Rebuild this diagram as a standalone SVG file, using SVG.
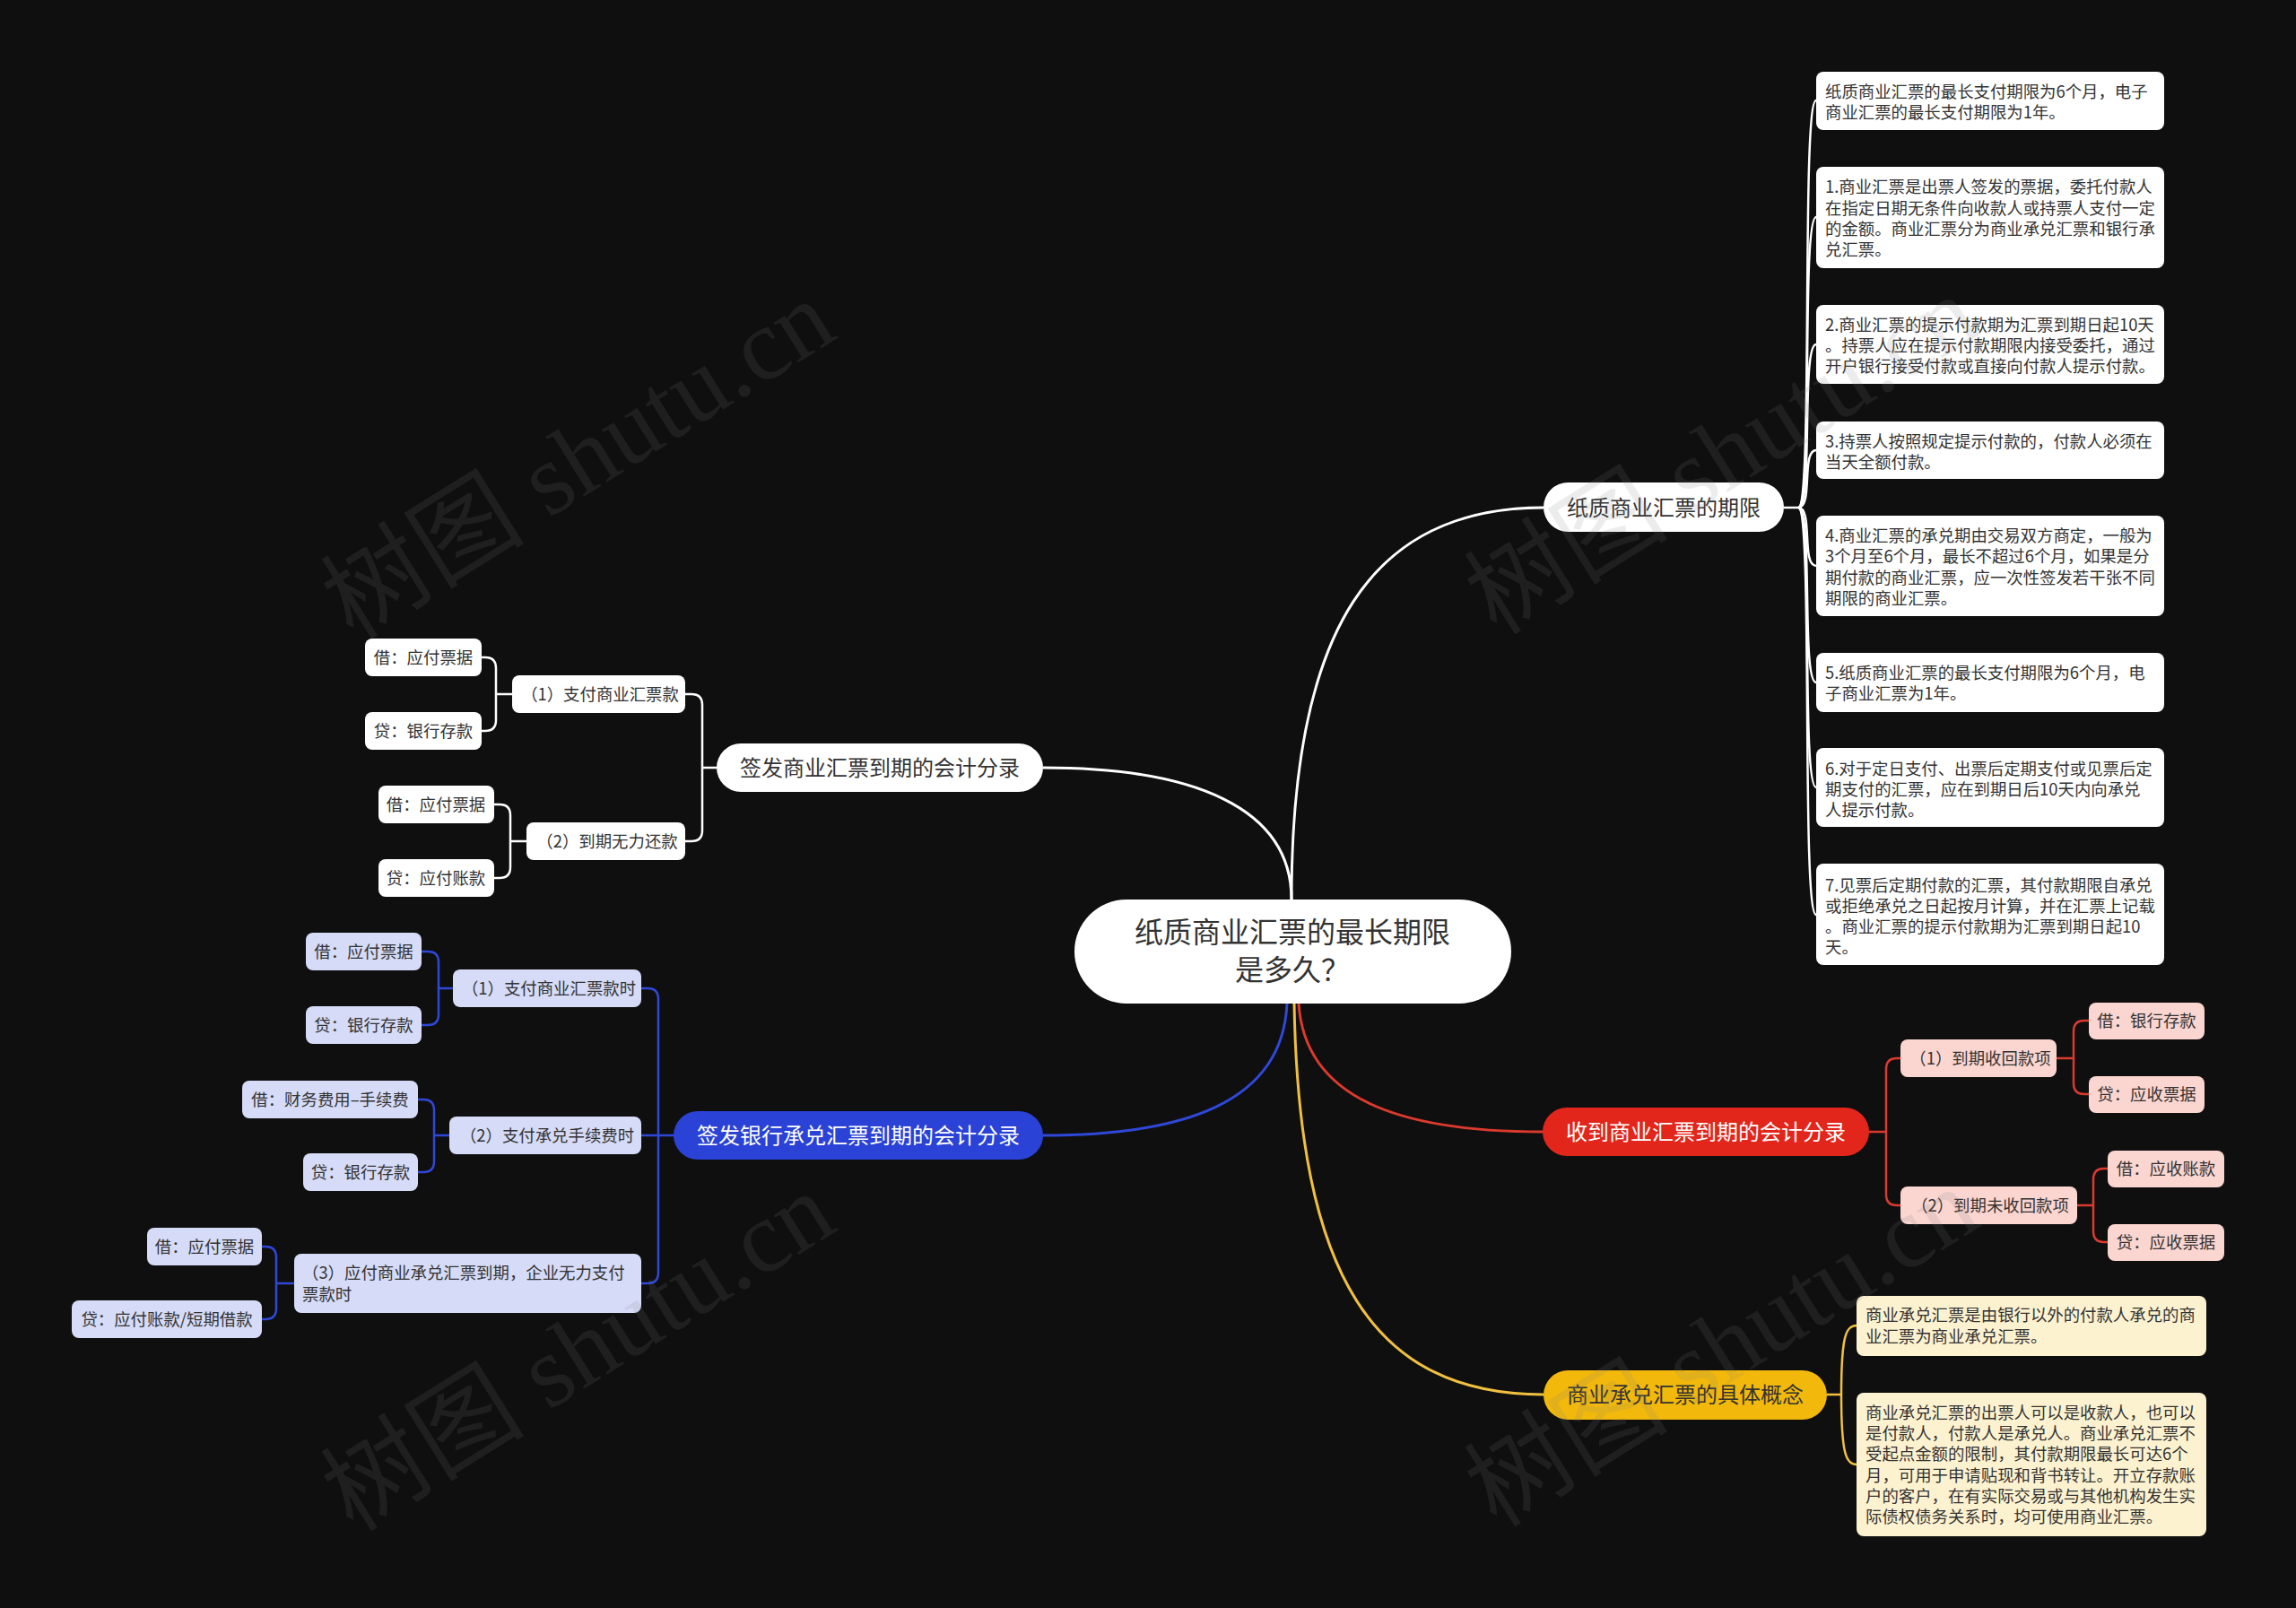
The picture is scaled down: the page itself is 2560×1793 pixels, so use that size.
<svg xmlns="http://www.w3.org/2000/svg" width="2560" height="1793" viewBox="0 0 2560 1793">
<style>
text{font-family:"Noto Sans CJK SC","Noto Sans",sans-serif}
.c{text-anchor:middle}
.lt{font-size:18.4px;fill:#333}
.mt{font-size:24px}
.dark{fill:#333}
.wh{fill:#fff}
.cw{fill:none;stroke:#fff;stroke-width:2.5}
.cb{fill:none;stroke:#2f48d8;stroke-width:2.5}
.cr{fill:none;stroke:#dc3a2e;stroke-width:2.5}
.cy{fill:none;stroke:#f0c040;stroke-width:2.5}
.main{stroke-width:3}
.lw{fill:#fff}
.lb{fill:#d6dbf7}
.lr{fill:#fbd5d0}
.ly{fill:#fdf2d0}
.wm{font-family:"Liberation Serif","Noto Sans CJK SC",serif;font-size:114px;fill:#808080;fill-opacity:0.15;text-anchor:middle}
</style>
<rect width="2560" height="1793" fill="#0f0f0f"/>
<g id="connectors">
<path class="cw main" d="M1440,1003 C1440,700 1530,566 1721,566"/>
<path class="cw main" d="M1440,1003 C1440,900 1330,856 1163,856"/>
<path class="cw" d="M1989,566 H2005"/>
<path class="cw" d="M2005,566 C2022,566 2008,112 2025,112"/>
<path class="cw" d="M2005,566 C2022,566 2008,242 2025,242"/>
<path class="cw" d="M2005,566 C2022,566 2008,384 2025,384"/>
<path class="cw" d="M2005,566 C2022,566 2008,502 2025,502"/>
<path class="cw" d="M2005,566 C2022,566 2008,631 2025,631"/>
<path class="cw" d="M2005,566 C2022,566 2008,761 2025,761"/>
<path class="cw" d="M2005,566 C2022,566 2008,878 2025,878"/>
<path class="cw" d="M2005,566 C2022,566 2008,1020 2025,1020"/>
<path class="cw" d="M799,856 H783"/>
<path class="cw" d="M783,856 V786 Q783,774 771,774 H764"/>
<path class="cw" d="M783,856 V926 Q783,938 771,938 H764"/>
<path class="cw" d="M571,774 H553"/>
<path class="cw" d="M553,774 V745 Q553,733 541,733 H537"/>
<path class="cw" d="M553,774 V803 Q553,815 541,815 H537"/>
<path class="cw" d="M587,938 H569"/>
<path class="cw" d="M569,938 V909 Q569,897 557,897 H551"/>
<path class="cw" d="M569,938 V967 Q569,979 557,979 H551"/>
<path class="cb main" d="M1435,1119 C1430,1230 1320,1266 1163,1266"/>
<path class="cb" d="M751,1266 H734"/>
<path class="cb" d="M734,1266 V1114 Q734,1102 722,1102 H715"/>
<path class="cb" d="M734,1266 H715"/>
<path class="cb" d="M734,1266 V1419 Q734,1431 722,1431 H715"/>
<path class="cb" d="M505,1102 H489"/>
<path class="cb" d="M489,1102 V1073 Q489,1061 477,1061 H470"/>
<path class="cb" d="M489,1102 V1131 Q489,1143 477,1143 H470"/>
<path class="cb" d="M501,1266 H484"/>
<path class="cb" d="M484,1266 V1238 Q484,1226 472,1226 H466"/>
<path class="cb" d="M484,1266 V1295 Q484,1307 472,1307 H466"/>
<path class="cb" d="M328,1431 H308"/>
<path class="cb" d="M308,1431 V1402 Q308,1390 296,1390 H292"/>
<path class="cb" d="M308,1431 V1459 Q308,1471 296,1471 H292"/>
<path class="cr main" d="M1448,1119 C1455,1225 1560,1262 1720,1262"/>
<path class="cr" d="M2084,1262 H2103"/>
<path class="cr" d="M2103,1262 V1192 Q2103,1180 2115,1180 H2119"/>
<path class="cr" d="M2103,1262 V1332 Q2103,1344 2115,1344 H2119"/>
<path class="cr" d="M2293,1180 H2312"/>
<path class="cr" d="M2312,1180 V1150 Q2312,1138 2324,1138 H2329"/>
<path class="cr" d="M2312,1180 V1208 Q2312,1220 2324,1220 H2329"/>
<path class="cr" d="M2316,1344 H2334"/>
<path class="cr" d="M2334,1344 V1315 Q2334,1303 2346,1303 H2350"/>
<path class="cr" d="M2334,1344 V1373 Q2334,1385 2346,1385 H2350"/>
<path class="cy main" d="M1443,1119 C1448,1420 1530,1555 1721,1555"/>
<path class="cy" d="M2037,1555 H2053"/>
<path class="cy" d="M2053,1555 C2053,1490 2058,1478 2070,1478"/>
<path class="cy" d="M2053,1555 C2053,1620 2058,1633 2070,1633"/>
</g>
<g id="root">
<rect x="1198" y="1003" width="487" height="116" rx="58" fill="#fff"/>
<text class="c dark" x="1441" y="1051" font-size="32">纸质商业汇票的最长期限</text>
<text class="c dark" x="1441" y="1093" font-size="32">是多久？</text>
</g>
<g id="b1">
<rect x="1721" y="538" width="268" height="55" rx="27.5" fill="#fff"/>
<text class="c mt dark" x="1855" y="575">纸质商业汇票的期限</text>
</g>
<g id="b1-l0"><rect class="lw" x="2025" y="80" width="388" height="65" rx="8"/>
<text class="lt" x="2035"><tspan x="2035" y="109">纸质商业汇票的最长支付期限为6个月，电子</tspan><tspan x="2035" y="132">商业汇票的最长支付期限为1年。</tspan></text></g>
<g id="b1-l1"><rect class="lw" x="2025" y="186" width="388" height="113" rx="8"/>
<text class="lt"><tspan x="2035" y="215">1.商业汇票是出票人签发的票据，委托付款人</tspan><tspan x="2035" y="239">在指定日期无条件向收款人或持票人支付一定</tspan><tspan x="2035" y="262">的金额。商业汇票分为商业承兑汇票和银行承</tspan><tspan x="2035" y="285">兑汇票。</tspan></text></g>
<g id="b1-l2"><rect class="lw" x="2025" y="340" width="388" height="88" rx="8"/>
<text class="lt"><tspan x="2035" y="369">2.商业汇票的提示付款期为汇票到期日起10天</tspan><tspan x="2035" y="392">。持票人应在提示付款期限内接受委托，通过</tspan><tspan x="2035" y="415">开户银行接受付款或直接向付款人提示付款。</tspan></text></g>
<g id="b1-l3"><rect class="lw" x="2025" y="470" width="388" height="64" rx="8"/>
<text class="lt"><tspan x="2035" y="499">3.持票人按照规定提示付款的，付款人必须在</tspan><tspan x="2035" y="522">当天全额付款。</tspan></text></g>
<g id="b1-l4"><rect class="lw" x="2025" y="575" width="388" height="112" rx="8"/>
<text class="lt"><tspan x="2035" y="604">4.商业汇票的承兑期由交易双方商定，一般为</tspan><tspan x="2035" y="627">3个月至6个月，最长不超过6个月，如果是分</tspan><tspan x="2035" y="651">期付款的商业汇票，应一次性签发若干张不同</tspan><tspan x="2035" y="674">期限的商业汇票。</tspan></text></g>
<g id="b1-l5"><rect class="lw" x="2025" y="728" width="388" height="66" rx="8"/>
<text class="lt"><tspan x="2035" y="757">5.纸质商业汇票的最长支付期限为6个月，电</tspan><tspan x="2035" y="780">子商业汇票为1年。</tspan></text></g>
<g id="b1-l6"><rect class="lw" x="2025" y="834" width="388" height="88" rx="8"/>
<text class="lt"><tspan x="2035" y="864">6.对于定日支付、出票后定期支付或见票后定</tspan><tspan x="2035" y="887">期支付的汇票，应在到期日后10天内向承兑</tspan><tspan x="2035" y="910">人提示付款。</tspan></text></g>
<g id="b1-l7"><rect class="lw" x="2025" y="963" width="388" height="113" rx="8"/>
<text class="lt"><tspan x="2035" y="994">7.见票后定期付款的汇票，其付款期限自承兑</tspan><tspan x="2035" y="1017">或拒绝承兑之日起按月计算，并在汇票上记载</tspan><tspan x="2035" y="1040">。商业汇票的提示付款期为汇票到期日起10</tspan><tspan x="2035" y="1063">天。</tspan></text></g>
<g id="b2">
<rect x="799" y="829" width="364" height="54" rx="27" fill="#fff"/>
<text class="c mt dark" x="981" y="865">签发商业汇票到期的会计分录</text>
</g>
<g id="b2-s1"><rect class="lw" x="571" y="753" width="193" height="42" rx="8"/><text class="c lt" x="669" y="781">（1）支付商业汇票款</text></g>
<g id="b2-s2"><rect class="lw" x="587" y="917" width="177" height="42" rx="8"/><text class="c lt" x="677" y="945">（2）到期无力还款</text></g>
<g id="b2-l1"><rect class="lw" x="407" y="712" width="130" height="42" rx="8"/><text class="c lt" x="472" y="740">借：应付票据</text></g>
<g id="b2-l2"><rect class="lw" x="407" y="794" width="130" height="42" rx="8"/><text class="c lt" x="472" y="822">贷：银行存款</text></g>
<g id="b2-l3"><rect class="lw" x="422" y="876" width="129" height="42" rx="8"/><text class="c lt" x="486" y="904">借：应付票据</text></g>
<g id="b2-l4"><rect class="lw" x="422" y="958" width="129" height="42" rx="8"/><text class="c lt" x="486" y="986">贷：应付账款</text></g>
<g id="b3">
<rect x="751" y="1239" width="412" height="54" rx="27" fill="#2a42d6"/>
<text class="c mt wh" x="957" y="1275">签发银行承兑汇票到期的会计分录</text>
</g>
<g id="b3-s1"><rect class="lb" x="505" y="1081" width="210" height="42" rx="8"/><text class="c lt" x="612" y="1109">（1）支付商业汇票款时</text></g>
<g id="b3-s2"><rect class="lb" x="501" y="1245" width="214" height="42" rx="8"/><text class="c lt" x="610" y="1273">（2）支付承兑手续费时</text></g>
<g id="b3-s3"><rect class="lb" x="328" y="1398" width="387" height="66" rx="8"/><text class="lt"><tspan x="337" y="1426">（3）应付商业承兑汇票到期，企业无力支付</tspan><tspan x="337" y="1450">票款时</tspan></text></g>
<g id="b3-l1"><rect class="lb" x="341" y="1040" width="129" height="42" rx="8"/><text class="c lt" x="405.5" y="1068">借：应付票据</text></g>
<g id="b3-l2"><rect class="lb" x="341" y="1122" width="129" height="42" rx="8"/><text class="c lt" x="405.5" y="1150">贷：银行存款</text></g>
<g id="b3-l3"><rect class="lb" x="270" y="1205" width="196" height="42" rx="8"/><text class="c lt" x="368" y="1233">借：财务费用–手续费</text></g>
<g id="b3-l4"><rect class="lb" x="338" y="1286" width="128" height="42" rx="8"/><text class="c lt" x="402" y="1314">贷：银行存款</text></g>
<g id="b3-l5"><rect class="lb" x="164" y="1369" width="128" height="42" rx="8"/><text class="c lt" x="228" y="1397">借：应付票据</text></g>
<g id="b3-l6"><rect class="lb" x="80" y="1450" width="212" height="42" rx="8"/><text class="c lt" x="186" y="1478">贷：应付账款/短期借款</text></g>
<g id="b4">
<rect x="1720" y="1235" width="364" height="54" rx="27" fill="#e3261b"/>
<text class="c mt wh" x="1902" y="1271">收到商业汇票到期的会计分录</text>
</g>
<g id="b4-s1"><rect class="lr" x="2119" y="1159" width="174" height="42" rx="8"/><text class="c lt" x="2208" y="1187">（1）到期收回款项</text></g>
<g id="b4-s2"><rect class="lr" x="2119" y="1323" width="197" height="42" rx="8"/><text class="c lt" x="2219" y="1351">（2）到期未收回款项</text></g>
<g id="b4-l1"><rect class="lr" x="2329" y="1118" width="129" height="41" rx="8"/><text class="c lt" x="2393.5" y="1145">借：银行存款</text></g>
<g id="b4-l2"><rect class="lr" x="2329" y="1200" width="129" height="41" rx="8"/><text class="c lt" x="2393.5" y="1227">贷：应收票据</text></g>
<g id="b4-l3"><rect class="lr" x="2350" y="1283" width="130" height="41" rx="8"/><text class="c lt" x="2415" y="1310">借：应收账款</text></g>
<g id="b4-l4"><rect class="lr" x="2350" y="1365" width="130" height="41" rx="8"/><text class="c lt" x="2415" y="1392">贷：应收票据</text></g>
<g id="b5">
<rect x="1721" y="1528" width="316" height="55" rx="27.5" fill="#f2b90c"/>
<text class="c mt dark" x="1879" y="1564">商业承兑汇票的具体概念</text>
</g>
<g id="b5-l1"><rect class="ly" x="2070" y="1445" width="390" height="67" rx="8"/>
<text class="lt"><tspan x="2080" y="1473">商业承兑汇票是由银行以外的付款人承兑的商</tspan><tspan x="2080" y="1497">业汇票为商业承兑汇票。</tspan></text></g>
<g id="b5-l2"><rect class="ly" x="2070" y="1553" width="390" height="160" rx="8"/>
<text class="lt"><tspan x="2080" y="1582">商业承兑汇票的出票人可以是收款人，也可以</tspan><tspan x="2080" y="1605">是付款人，付款人是承兑人。商业承兑汇票不</tspan><tspan x="2080" y="1628">受起点金额的限制，其付款期限最长可达6个</tspan><tspan x="2080" y="1652">月，可用于申请贴现和背书转让。开立存款账</tspan><tspan x="2080" y="1675">户的客户，在有实际交易或与其他机构发生实</tspan><tspan x="2080" y="1698">际债权债务关系时，均可使用商业汇票。</tspan></text></g>
<g id="watermark">
<text class="wm" transform="translate(665,545) rotate(-32)">树图 shutu.cn</text>
<text class="wm" transform="translate(1940,540) rotate(-32)">树图 shutu.cn</text>
<text class="wm" transform="translate(665,1540) rotate(-32)">树图 shutu.cn</text>
<text class="wm" transform="translate(1940,1535) rotate(-32)">树图 shutu.cn</text>
</g>
</svg>
